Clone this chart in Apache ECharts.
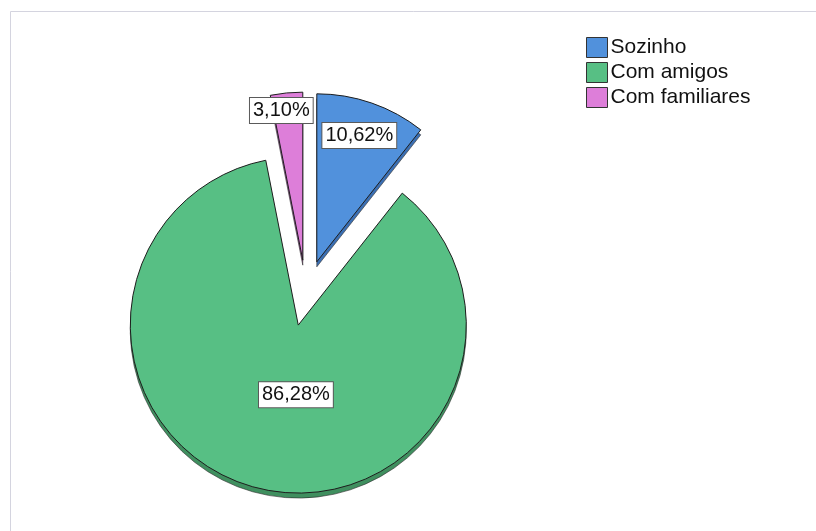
<!DOCTYPE html>
<html>
<head>
<meta charset="utf-8">
<script src="https://cdn.jsdelivr.net/npm/echarts@6/dist/echarts.min.js"></script>
<style>
  html, body { margin: 0; padding: 0; background: #ffffff; }
  #chart { width: 816px; height: 531px; }
</style>
</head>
<body>
<div id="chart"></div>
<script>
// Companhia: percentage of respondents in each group
const categories = ['Sozinho', 'Com amigos', 'Com familiares'];
const percentages = [10.62, 86.28, 3.10];

// Slice colours: face and the darker rim beneath it
const faceColors = ['#5191dc', '#57bf84', '#dd7ed9'];
const rimColors = ['#3b6fb3', '#3f8f5f', '#a95aa6'];

// Nudges for the value boxes, in pixels, relative to the default inside spot
const labelNudge = [[14, -44], [18, -15], [-13, -63]];

const FONT = '"Liberation Sans", Arial, sans-serif';
const pieCenter = [306, 293];
const pieRadius = 168;
const explode = 33;
const rimDepth = 5;

function pctText(v) {
  return v.toFixed(2).replace('.', ',') + '%';
}

function pieData(colors) {
  return categories.map((name, i) => ({
    name: name,
    value: percentages[i],
    selected: true,
    itemStyle: { color: colors[i] }
  }));
}

const chart = echarts.init(document.getElementById('chart'), null, { renderer: 'canvas' });

chart.setOption({
  animation: false,
  backgroundColor: '#ffffff',
  graphic: [{
    type: 'rect',
    left: 10, top: 11,
    shape: { width: 820, height: 540 },
    style: { fill: '#ffffff', stroke: '#d4d4df', lineWidth: 1 },
    silent: true,
    z: -10
  }],
  legend: {
    orient: 'vertical',
    left: 586,
    top: 37,
    padding: 0,
    itemWidth: 21,
    itemHeight: 20,
    itemGap: 4,
    icon: 'rect',
    selectedMode: false,
    data: categories,
    itemStyle: { borderColor: '#333333', borderWidth: 1 },
    textStyle: { fontFamily: FONT, fontSize: 21, color: '#111111', padding: [0, 0, 0, -2] }
  },
  series: [
    {
      type: 'pie',
      name: 'Companhia',
      center: pieCenter,
      radius: pieRadius,
      startAngle: 90,
      clockwise: true,
      selectedMode: 'multiple',
      selectedOffset: explode,
      avoidLabelOverlap: false,
      emphasis: { disabled: true },
      itemStyle: { borderColor: '#1e1e1e', borderWidth: 1 },
      label: {
        show: true,
        position: 'inside',
        formatter: p => pctText(p.value),
        fontFamily: FONT,
        fontSize: 20,
        color: '#111111',
        backgroundColor: '#ffffff',
        borderColor: '#5a5a5a',
        borderWidth: 1,
        padding: [3, 3, 2, 3]
      },
      labelLine: { show: false },
      labelLayout: p => ({ dx: labelNudge[p.dataIndex][0], dy: labelNudge[p.dataIndex][1] }),
      data: pieData(faceColors),
      z: 3
    },
    {
      // darker rim drawn slightly lower to give the slices some thickness
      type: 'pie',
      name: 'rim',
      center: [pieCenter[0], pieCenter[1] + rimDepth],
      radius: pieRadius,
      startAngle: 90,
      clockwise: true,
      selectedMode: 'multiple',
      selectedOffset: explode,
      silent: true,
      label: { show: false },
      labelLine: { show: false },
      itemStyle: { borderColor: '#2a2a2a', borderWidth: 0.6 },
      data: pieData(rimColors),
      z: 1
    }
  ]
});
</script>
</body>
</html>
